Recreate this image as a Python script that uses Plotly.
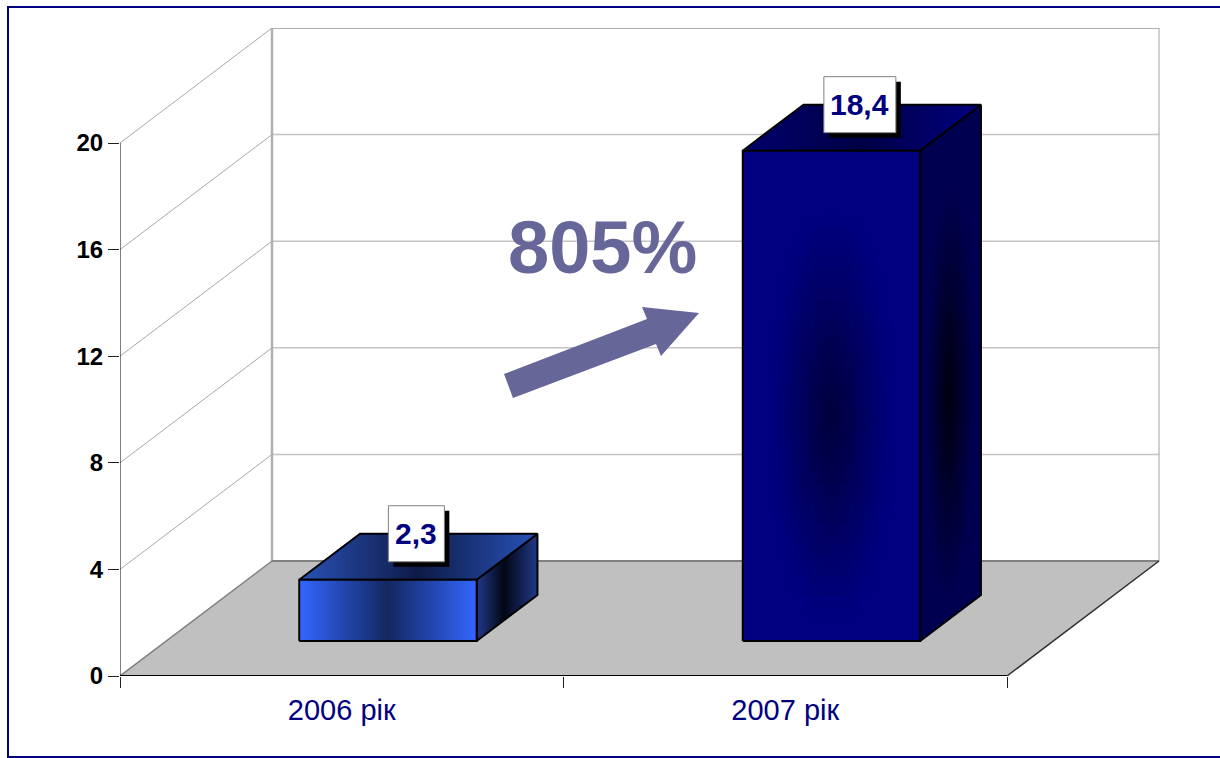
import math
import plotly.graph_objects as go

# ---- data ----
categories = ["2006 рік", "2007 рік"]
values = [2.3, 18.4]
value_labels = ["2,3", "18,4"]
y_ticks = [0, 4, 8, 12, 16, 20]
growth_label = "805%"

# ---- layout geometry (pixels of the 1220x758 page) ----
W, H = 1220, 758
LEFT, BOTTOM = 120, 676
RIGHT, TOP = 1160, 28
PX_PER_CAT = 443.5
PX_PER_UNIT = 26.65
DEPTH_X = 152 / PX_PER_CAT      # oblique projection of full floor depth
DEPTH_Y = 115 / PX_PER_UNIT
BAR_WIDTH = 0.4
D_FRONT, D_BACK = 0.304, 0.704


def P(c, v, d=0.0):
    return c + d * DEPTH_X, v + d * DEPTH_Y


def xp(px):
    return (px - LEFT) / (RIGHT - LEFT)


def yp(py):
    return (BOTTOM - py) / (BOTTOM - TOP)


def poly(points, fill=None, grad=None, line="black", lw=2):
    xs = [p[0] for p in points] + [points[0][0]]
    ys = [p[1] for p in points] + [points[0][1]]
    kw = dict(x=xs, y=ys, mode="lines", fill="toself", cliponaxis=False,
              line=dict(color=line, width=lw), hoverinfo="skip", showlegend=False)
    if grad:
        kw["fillgradient"] = dict(type="horizontal", colorscale=grad)
    else:
        kw["fillcolor"] = fill
    return go.Scatter(**kw)


def seg(pts, color, lw=1):
    return go.Scatter(x=[p[0] for p in pts], y=[p[1] for p in pts], mode="lines",
                      cliponaxis=False, line=dict(color=color, width=lw),
                      hoverinfo="skip", showlegend=False)


def hex2rgb(h):
    return tuple(int(h[i:i + 2], 16) for i in (1, 3, 5))


def lerp(c0, c1, t):
    a, b = hex2rgb(c0), hex2rgb(c1)
    return "rgb(%d,%d,%d)" % tuple(round(a[i] + (b[i] - a[i]) * t) for i in range(3))


def shaded_colorscale(edge, centre, cx, ux, t):
    """horizontal colours of one slice of an elliptical shade; t = vertical term"""
    stops = []
    for k in range(21):
        s = k / 20
        u = (s - cx) / (cx if s < cx else 1 - cx)
        r = min(1.0, math.sqrt((u / ux) ** 2 + t ** 2))
        stops.append([s, lerp(centre, edge, r)])
    return stops


def shaded_face(fig, corners, v, edge, centre, cx, ux, tall):
    """corners(v0, v1) gives the polygon of the face between two heights"""
    slices = 48 if tall else 1
    for k in range(slices):
        v0, v1 = v * k / slices, v * (k + 1) / slices
        mid = (v0 + v1) / 2 / v
        t = abs(mid - 0.47) / 0.42 if tall else 0.0
        pts = corners(max(0, v0 - v / slices * 0.6), v1)
        fig.add_trace(poly(pts, grad=shaded_colorscale(edge, centre, cx, ux, t),
                           line="rgba(0,0,0,0)", lw=0))
    fig.add_trace(go.Scatter(x=[p[0] for p in corners(0, v)] + [corners(0, v)[0][0]],
                             y=[p[1] for p in corners(0, v)] + [corners(0, v)[0][1]],
                             mode="lines", cliponaxis=False, line=dict(color="black", width=2),
                             hoverinfo="skip", showlegend=False))


fig = go.Figure()
n = len(categories)

# walls
for t in y_ticks:
    if t > 0:
        fig.add_trace(seg([P(0, t, 1), P(n, t, 1)], "#c4c4c4", 1.5))
        fig.add_trace(seg([P(0, t), P(0, t, 1)], "#a8a8a8", 1))
fig.add_trace(seg([P(0, y_ticks[-1], 1), P(n, y_ticks[-1], 1)], "#b0b0b0", 2))
fig.add_trace(seg([P(0, 0, 1), P(0, y_ticks[-1], 1)], "#b0b0b0", 2.5))
fig.add_trace(seg([P(n, 0, 1), P(n, y_ticks[-1], 1)], "#a0a0a0", 1))

# floor
fig.add_trace(poly([P(0, 0), P(0, 0, 1), P(n, 0, 1), P(n, 0)], fill="#c0c0c0", line="#c0c0c0", lw=0.5))
fig.add_trace(seg([P(0, 0), P(0, 0, 1)], "#808080", 1.5))
fig.add_trace(seg([P(0, 0, 1), P(n, 0, 1)], "#808080", 2))
fig.add_trace(seg([P(n, 0), P(n, 0, 1)], "#303030", 1.5))
fig.add_trace(seg([P(0, 0), P(n, 0)], "#000000", 2))
fig.add_trace(seg([P(0, 0), P(0, y_ticks[-1])], "#000000", 1))

# bars
styles = [
    dict(front=("#3366ff", "#14275f", 0.5, 1.0), side=("#22398a", "#020714", 0.45, 1.0),
         top=[[0, "#2a52b8"], [0.5, "#0e1b48"], [1, "#2a52b8"]], tall=False),
    dict(front=("#000080", "#00003a", 0.5, 0.68), side=("#000050", "#00000e", 0.47, 0.8),
         top=[[0, "#00006e"], [0.5, "#000045"], [1, "#000080"]], tall=True),
]
for i, (v, st) in enumerate(zip(values, styles)):
    c = i + 0.5
    l, r = c - BAR_WIDTH / 2, c + BAR_WIDTH / 2
    shaded_face(fig, lambda a, b, r=r: [P(r, a, D_FRONT), P(r, a, D_BACK), P(r, b, D_BACK), P(r, b, D_FRONT)],
                v, st["side"][0], st["side"][1], st["side"][2], st["side"][3], st["tall"])
    fig.add_trace(poly([P(l, v, D_FRONT), P(l, v, D_BACK), P(r, v, D_BACK), P(r, v, D_FRONT)], grad=st["top"]))
    shaded_face(fig, lambda a, b, l=l, r=r: [P(l, a, D_FRONT), P(r, a, D_FRONT), P(r, b, D_FRONT), P(l, b, D_FRONT)],
                v, st["front"][0], st["front"][1], st["front"][2], st["front"][3], st["tall"])

shapes, annotations = [], []
# value labels with drop shadow
for i, (v, txt) in enumerate(zip(values, value_labels)):
    ay = P(i + 0.5, v, D_BACK)[1]
    ax = i + 0.5 + (D_FRONT + D_BACK) / 2 * DEPTH_X
    half = (16 * len(txt) + 8) / 2
    base = dict(type="rect", xref="x", yref="y", xsizemode="pixel", ysizemode="pixel",
                xanchor=ax, yanchor=ay, layer="above")
    shapes.append(dict(base, x0=-half - 2 + 5, x1=half - 2 + 5, y0=-28 - 5, y1=28 - 5,
                       fillcolor="black", line=dict(width=0)))
    shapes.append(dict(base, x0=-half - 2, x1=half - 2, y0=-28, y1=28,
                       fillcolor="white", line=dict(color="#808080", width=1)))
    annotations.append(dict(x=ax, y=ay, xref="x", yref="y", xshift=-2, text=f"<b>{txt}</b>", showarrow=False,
                            font=dict(family="Liberation Sans", size=30, color="#000080")))

# growth arrow and caption
arrow = [(504, 374), (647, 319), (642, 307), (699, 313), (661, 356), (656, 344), (513, 398)]
path = "M " + " L ".join(f"{xp(a):.5f},{yp(b):.5f}" for a, b in arrow) + " Z"
shapes.append(dict(type="path", xref="paper", yref="paper", path=path, fillcolor="#666699",
                   line=dict(width=0), layer="above"))
annotations.append(dict(x=xp(602), y=yp(248), xref="paper", yref="paper", text=f"<b>{growth_label}</b>",
                        showarrow=False, font=dict(family="Liberation Sans", size=74, color="#666699")))

# outer frame (runs off the right side of the page)
shapes.append(dict(type="rect", xref="paper", yref="paper", x0=xp(8), x1=xp(1240), y0=yp(757), y1=yp(7),
                   line=dict(color="#000080", width=2), fillcolor="rgba(0,0,0,0)", layer="above"))

fig.update_layout(
    width=W, height=H, autosize=False,
    margin=dict(l=LEFT, r=W - RIGHT, t=TOP, b=H - BOTTOM, pad=0),
    paper_bgcolor="white", plot_bgcolor="white", showlegend=False,
    shapes=shapes, annotations=annotations,
    xaxis=dict(range=[0, (RIGHT - LEFT) / PX_PER_CAT], showgrid=False, zeroline=False, showline=False,
               tickmode="array", tickvals=[i + 0.5 for i in range(n)], ticktext=categories,
               ticks="", ticklabelstandoff=14,
               tickfont=dict(family="Liberation Sans", size=29, color="#000080"),
               minor=dict(tickmode="array", tickvals=list(range(n + 1)), ticks="outside",
                          ticklen=11, tickcolor="#202020", tickwidth=1, showgrid=False)),
    yaxis=dict(range=[0, (BOTTOM - TOP) / PX_PER_UNIT], showgrid=False, zeroline=False, showline=False,
               tickmode="array", tickvals=y_ticks, ticktext=[str(t) for t in y_ticks],
               ticks="outside", ticklen=11, tickcolor="#202020", tickwidth=1, ticklabelstandoff=0,
               tickfont=dict(family="Liberation Sans", size=24, color="black", weight="bold")),
)

fig.write_html("out.html", config=dict(displayModeBar=False),
               post_script="document.body.style.margin='0';document.body.style.overflow='hidden';")
